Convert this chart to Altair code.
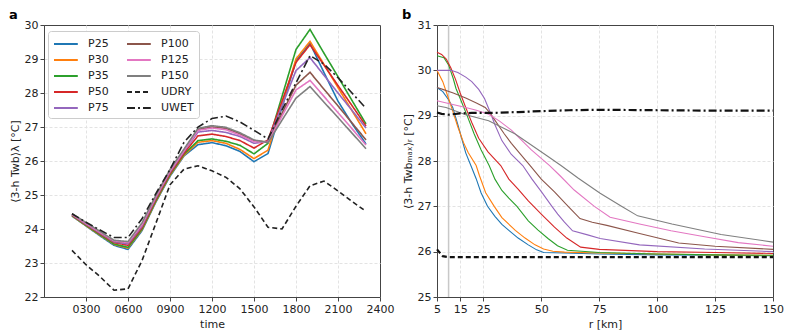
import altair as alt
import pandas as pd

# ---------------- Panel a: diurnal cycle ----------------
hours = list(range(2, 24))
time_ticks = [3, 6, 9, 12, 15, 18, 21, 24]  # shown as 0300 ... 2400

a_P25 = [24.38, 24.09, 23.80, 23.52, 23.40, 23.95, 24.80, 25.55, 26.15, 26.48, 26.54, 26.45, 26.28, 25.98, 26.22, 27.58, 28.95, 29.46, 28.60, 27.76, 27.10, 26.50]
a_P30 = [24.39, 24.10, 23.82, 23.55, 23.44, 23.98, 24.82, 25.58, 26.17, 26.55, 26.60, 26.52, 26.34, 26.07, 26.32, 27.66, 29.00, 29.52, 28.84, 28.16, 27.48, 26.80]
a_P35 = [24.40, 24.11, 23.83, 23.56, 23.46, 24.00, 24.84, 25.60, 26.20, 26.60, 26.65, 26.58, 26.46, 26.21, 26.52, 27.90, 29.28, 29.87, 29.17, 28.48, 27.78, 27.09]
a_P50 = [24.41, 24.13, 23.86, 23.60, 23.52, 24.04, 24.88, 25.63, 26.23, 26.74, 26.79, 26.72, 26.60, 26.38, 26.62, 27.76, 28.90, 29.42, 28.82, 28.22, 27.63, 27.03]
a_P75 = [24.42, 24.14, 23.88, 23.62, 23.56, 24.08, 24.92, 25.67, 26.28, 26.85, 26.90, 26.84, 26.72, 26.52, 26.58, 27.62, 28.66, 29.04, 28.52, 28.00, 27.49, 26.97]
a_P100 = [24.43, 24.16, 23.90, 23.64, 23.60, 24.12, 24.95, 25.70, 26.32, 26.93, 27.00, 26.96, 26.80, 26.60, 26.56, 27.40, 28.23, 28.61, 28.11, 27.62, 27.12, 26.62]
a_P125 = [24.43, 24.16, 23.90, 23.65, 23.60, 24.12, 24.95, 25.70, 26.30, 26.90, 26.97, 26.92, 26.76, 26.57, 26.55, 27.32, 28.09, 28.37, 27.90, 27.42, 26.95, 26.47]
a_P150 = [24.45, 24.19, 23.93, 23.67, 23.63, 24.18, 25.00, 25.75, 26.35, 26.96, 27.04, 26.99, 26.83, 26.62, 26.54, 27.20, 27.85, 28.19, 27.73, 27.28, 26.82, 26.36]
a_UDRY = [23.37, 22.95, 22.60, 22.20, 22.24, 23.07, 24.18, 25.30, 25.76, 25.86, 25.71, 25.52, 25.18, 24.65, 24.05, 24.00, 24.67, 25.27, 25.41, 25.12, 24.81, 24.52]
a_UWET = [24.45, 24.20, 23.97, 23.75, 23.75, 24.30, 25.05, 25.75, 26.55, 27.00, 27.25, 27.32, 27.15, 26.90, 26.65, 27.50, 28.30, 29.10, 28.85, 28.45, 28.00, 27.55]

# ---------------- Panel b: radial profiles ----------------
b_P25_r = [5, 7.5, 10, 11.8, 14, 17.4, 20, 21.9, 24, 26.8, 30, 33, 36, 40, 44.4, 48, 51, 60, 75, 100, 125, 150]
b_P25 = [29.62, 29.53, 29.35, 29.18, 28.80, 28.18, 27.85, 27.61, 27.30, 27.00, 26.78, 26.60, 26.47, 26.30, 26.15, 26.04, 25.98, 25.97, 25.95, 25.93, 25.92, 25.91]
b_P30_r = [5, 7.5, 9.5, 11.8, 14, 16.5, 18.5, 21.9, 23.3, 26, 29.7, 33, 38.8, 43, 47.3, 51, 55, 60, 75, 100, 125, 150]
b_P30 = [30.00, 29.75, 29.45, 29.10, 28.75, 28.40, 28.18, 27.90, 27.68, 27.30, 27.00, 26.75, 26.47, 26.30, 26.15, 26.06, 26.01, 25.99, 25.97, 25.95, 25.93, 25.92]
b_P35_r = [5, 8, 10, 12, 13.2, 15, 18, 21, 24, 27.5, 30, 33, 36, 39.5, 44.4, 48.5, 52.9, 57, 61.3, 75, 100, 125, 150]
b_P35 = [30.32, 30.28, 30.12, 29.82, 29.60, 29.38, 29.00, 28.60, 28.25, 27.90, 27.60, 27.35, 27.18, 27.00, 26.68, 26.48, 26.29, 26.13, 26.03, 25.98, 25.95, 25.93, 25.92]
b_P50_r = [5, 7, 9, 11, 13, 15, 17.4, 20, 23, 27, 32.5, 36, 40, 44.4, 50, 55.7, 61, 67, 75, 100, 125, 150]
b_P50 = [30.40, 30.35, 30.25, 30.05, 29.80, 29.50, 29.18, 28.85, 28.50, 28.20, 27.90, 27.60, 27.38, 27.12, 26.83, 26.54, 26.30, 26.10, 26.05, 26.00, 25.98, 25.96]
b_P75_r = [5, 8, 11, 14, 17.4, 20, 23, 25.5, 28, 30, 33, 37, 42, 46, 50.1, 54.6, 57.1, 60, 63.5, 70, 75.4, 92.4, 120.5, 150]
b_P75 = [30.00, 30.00, 30.00, 29.95, 29.85, 29.75, 29.58, 29.38, 29.07, 28.80, 28.45, 28.15, 27.90, 27.60, 27.32, 27.00, 26.83, 26.65, 26.46, 26.37, 26.29, 26.15, 26.06, 26.00]
b_P100_r = [5, 7.5, 12, 17.4, 22, 25.8, 28, 30.1, 34, 37.1, 41, 45.2, 50, 55.7, 61.6, 66.7, 72, 78.3, 92.4, 109.3, 125, 150]
b_P100 = [29.62, 29.58, 29.50, 29.39, 29.28, 29.18, 29.05, 28.89, 28.60, 28.39, 28.15, 27.90, 27.60, 27.32, 27.00, 26.73, 26.65, 26.58, 26.40, 26.19, 26.12, 26.05]
b_P125_r = [5, 10, 17.4, 22, 27.3, 32, 37.1, 45.6, 53.6, 58, 64.2, 72.9, 79.7, 92.4, 106, 120.5, 135, 150]
b_P125 = [29.33, 29.27, 29.18, 29.12, 29.03, 28.88, 28.68, 28.25, 27.90, 27.68, 27.36, 27.00, 26.76, 26.61, 26.46, 26.33, 26.20, 26.12]
b_P150_r = [5, 8.9, 17.4, 27.3, 38.6, 52.6, 58.5, 66, 75.4, 84.6, 91.6, 106.4, 127.6, 150]
b_P150 = [29.22, 29.18, 29.02, 28.89, 28.60, 28.11, 27.90, 27.62, 27.29, 27.00, 26.79, 26.61, 26.38, 26.21]
b_UDRY_r = [5, 7.5, 10, 150]
b_UDRY = [26.05, 25.90, 25.88, 25.88]
b_UWET_r = [5, 7, 10, 15, 20, 29, 40, 50, 62, 75, 100, 125, 150]
b_UWET = [29.07, 29.04, 29.02, 29.05, 29.06, 29.06, 29.08, 29.10, 29.12, 29.13, 29.12, 29.11, 29.11]
b_marker_r = [10]
r_ticks = [5, 15, 25, 50, 75, 100, 125, 150]

# ---------------- styling tables ----------------
series_names = ["P25", "P30", "P35", "P50", "P75", "P100", "P125", "P150", "UDRY", "UWET"]
series_colors = ["#1f77b4", "#ff7f0e", "#2ca02c", "#d62728", "#9467bd",
                 "#8c564b", "#e377c2", "#7f7f7f", "#222222", "#222222"]
series_dashes = [[1, 0]] * 8 + [[5, 3], [8, 3, 2, 3]]

a_vals = [a_P25, a_P30, a_P35, a_P50, a_P75, a_P100, a_P125, a_P150, a_UDRY, a_UWET]
rows = []
for name, vals in zip(series_names, a_vals):
    for h, v in zip(hours, vals):
        rows.append({"hour": h, "value": v, "series": name})
df_a = pd.DataFrame(rows)

b_rs = [b_P25_r, b_P30_r, b_P35_r, b_P50_r, b_P75_r, b_P100_r, b_P125_r, b_P150_r, b_UDRY_r, b_UWET_r]
b_vals = [b_P25, b_P30, b_P35, b_P50, b_P75, b_P100, b_P125, b_P150, b_UDRY, b_UWET]
rows = []
for name, rs, vals in zip(series_names, b_rs, b_vals):
    for i, (r, v) in enumerate(zip(rs, vals)):
        rows.append({"r": r, "value": v, "series": name, "order": i})
df_b = pd.DataFrame(rows)

color_scale = alt.Scale(domain=series_names, range=series_colors)
dash_scale = alt.Scale(domain=series_names, range=series_dashes)

legend = alt.Legend(
    title=None, orient="none", legendX=4, legendY=6, columns=2, columnPadding=14,
    rowPadding=3, symbolType="M-1,0L2.4,0", symbolSize=196, symbolStrokeWidth=1.8,
    labelFontSize=11, labelOffset=19, padding=5, fillColor="white",
    strokeColor="#cccccc", cornerRadius=3, labelColor="#222222",
)

W, H = 336, 272
grid_col = {"condition": {"test": "datum.value == 30 || datum.value == 24 || datum.value == 31 || datum.value == 150",
                          "value": "transparent"}, "value": "#e3e3e3"}

left = alt.Chart(df_a).mark_line(strokeWidth=1.6).encode(
    x=alt.X("hour:Q",
            scale=alt.Scale(domain=[0, 24], nice=False, zero=False),
            axis=alt.Axis(values=time_ticks, labelExpr="format(datum.value*100, '04d')",
                          title="time", labelFlush=False, gridColor=grid_col)),
    y=alt.Y("value:Q",
            scale=alt.Scale(domain=[22, 30], nice=False, zero=False),
            axis=alt.Axis(values=list(range(22, 31)), title="⟨3-h Twb⟩λ [°C]",
                          labelFlush=False, gridColor=grid_col)),
    color=alt.Color("series:N", scale=color_scale, legend=legend),
    strokeDash=alt.StrokeDash("series:N", scale=dash_scale, legend=legend),
).properties(
    width=W, height=H,
    title=alt.TitleParams("a", anchor="start", fontWeight="bold", fontSize=13, offset=-3),
)

xb = alt.X("r:Q", scale=alt.Scale(domain=[5, 150], nice=False, zero=False),
           axis=alt.Axis(values=r_ticks, title="r [km]", labelFlush=False, gridColor=grid_col))
yb = alt.Y("value:Q", scale=alt.Scale(domain=[25, 31], nice=False, zero=False),
           axis=alt.Axis(values=list(range(25, 32)), title="⟨3-h Twbₘₐₓ⟩ᵣ [°C]",
                         labelFlush=False, gridColor=grid_col))

marker = alt.Chart(pd.DataFrame({"r": b_marker_r})).mark_rule(
    color="#c8c8c8", strokeWidth=1.5).encode(x=alt.X("r:Q"))

right_col = alt.Chart(df_b[~df_b.series.isin(["UDRY", "UWET"])]).mark_line(
    strokeWidth=1.1).encode(
    x=xb, y=yb, order="order:Q",
    color=alt.Color("series:N", scale=color_scale, legend=None),
)
right_blk = alt.Chart(df_b[df_b.series.isin(["UDRY", "UWET"])]).mark_line(
    strokeWidth=2.2, color="#111111").encode(
    x=xb, y=yb, order="order:Q", detail="series:N",
    strokeDash=alt.StrokeDash("series:N", scale=dash_scale, legend=None),
)

right = alt.layer(marker, right_col, right_blk).properties(
    width=W, height=H,
    title=alt.TitleParams("b", anchor="start", fontWeight="bold", fontSize=13, offset=-3),
)

chart = alt.hconcat(left, right, spacing=6).resolve_scale(
    color="independent", strokeDash="independent"
).resolve_legend(color="independent", strokeDash="independent").properties(
    padding=0
).configure(font="DejaVu Sans").configure_view(
    stroke="#444444", strokeWidth=1
).configure_axis(
    domainColor="#444444", tickColor="#444444", labelColor="#222222",
    titleColor="#222222", labelFontSize=11, titleFontSize=11,
    titleFontWeight="normal", gridDash=[3, 2],
    tickSize=4, labelPadding=2, titlePadding=4,
)

chart.save("out.html", embed_options={"renderer": "svg", "actions": False})
